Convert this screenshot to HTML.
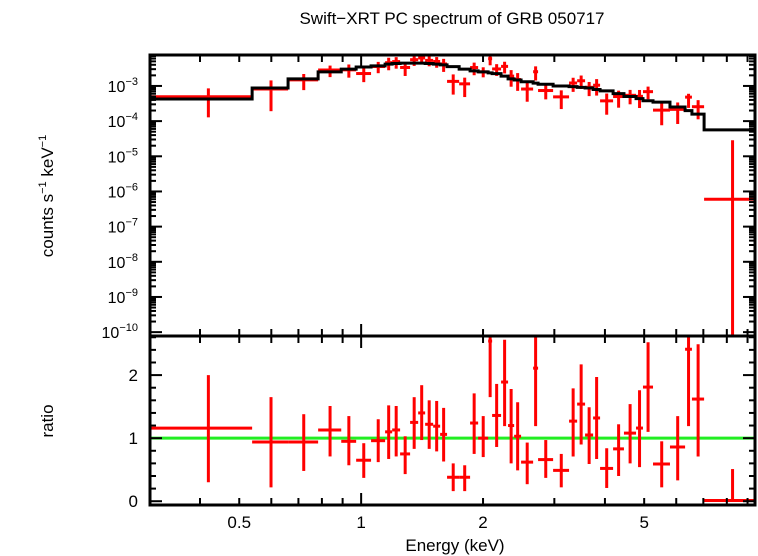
<!DOCTYPE html>
<html><head><meta charset="utf-8"><style>
html,body{margin:0;padding:0;background:#fff;}
svg{display:block;font-family:"Liberation Sans",sans-serif;}
</style></head><body>
<svg id="chart" width="758" height="556" viewBox="0 0 758 556" xmlns="http://www.w3.org/2000/svg">
<text x="452" y="24" font-size="17" text-anchor="middle">Swift−XRT PC spectrum of GRB 050717</text>
<text transform="translate(53,196) rotate(-90)" font-size="17" text-anchor="middle">counts s<tspan font-size="11" dy="-7">−1</tspan><tspan dy="7"> keV</tspan><tspan font-size="11" dy="-7">−1</tspan></text>
<text transform="translate(53,421) rotate(-90)" font-size="17" text-anchor="middle">ratio</text>
<text x="455" y="551" font-size="17" text-anchor="middle">Energy (keV)</text>
<g id="plot"></g>
</svg>
<script>
// Data
const binEdges = [0.301,0.538,0.660,0.783,0.893,0.972,1.058,1.146,1.193,1.248,1.321,1.383,1.439,1.506,1.567,1.630,1.746,1.858,1.945,2.059,2.106,2.216,2.306,2.387,2.483,2.659,2.735,2.979,3.262,3.415,3.573,3.740,3.891,4.190,4.457,4.774,4.966,5.258,5.79,6.31,6.56,7.03,9.5];
const modelLog = [-3.37,-3.06,-2.80,-2.60,-2.52,-2.46,-2.43,-2.38,-2.36,-2.35,-2.35,-2.35,-2.36,-2.38,-2.40,-2.45,-2.52,-2.57,-2.60,-2.63,-2.65,-2.72,-2.80,-2.83,-2.88,-2.92,-2.95,-3.00,-3.02,-3.04,-3.06,-3.10,-3.14,-3.22,-3.30,-3.36,-3.42,-3.46,-3.60,-3.70,-3.80,-4.25];
const ratio = [1.16,0.94,0.94,1.13,0.95,0.65,0.96,1.10,1.13,0.75,1.25,1.40,1.22,1.19,1.06,0.38,0.38,1.24,1.00,2.54,1.36,1.89,1.20,1.03,0.62,2.11,0.66,0.49,1.27,1.54,1.05,1.32,0.52,0.83,1.08,1.16,1.81,0.59,0.86,2.41,1.62,0.0107];
const ratioHi = [2.00,1.65,1.38,1.51,1.35,0.92,1.30,1.52,1.51,1.03,1.65,1.84,1.60,1.59,1.48,0.60,0.57,1.71,1.35,3.20,1.86,2.56,1.78,1.57,0.93,3.00,0.97,0.75,1.79,2.17,1.49,1.97,0.84,1.22,1.54,1.76,2.52,0.95,1.35,3.00,2.49,0.51];
const ratioLo = [0.30,0.22,0.48,0.71,0.57,0.37,0.62,0.67,0.71,0.43,0.83,0.97,0.83,0.79,0.63,0.16,0.16,0.75,0.70,1.65,0.86,1.19,0.60,0.49,0.27,1.19,0.37,0.22,0.71,0.90,0.59,0.67,0.21,0.40,0.60,0.54,1.10,0.22,0.33,1.19,0.71,0.0];
const xTicksLabeled = [0.5,1,2,5];
const xMinorTicks = [0.4,0.5,0.6,0.7,0.8,0.9,1,2,3,4,5,6,7,8,9];
const yDecades = [-3,-4,-5,-6,-7,-8,-9,-10];
const ratioMajor = [0,1,2];

const NS="http://www.w3.org/2000/svg";
const g=document.getElementById('plot');
const L=150,R=755,T1=55,B1=336,T2=336,B2=505;
const XMIN=Math.log10(0.301),XMAX=Math.log10(9.39);
const sx=e=>L+(Math.log10(e)-XMIN)/(XMAX-XMIN)*(R-L);
const LYMAX=-2.12,LYMIN=-10.11;
const sy1=l=>T1+(LYMAX-l)/(LYMAX-LYMIN)*(B1-T1);
const RMAX=2.62,RMIN=-0.06;
const sy2=r=>T2+(RMAX-r)/(RMAX-RMIN)*(B2-T2);
function mk(tag,attrs){const e=document.createElementNS(NS,tag);for(const k in attrs)e.setAttribute(k,attrs[k]);return e;}
function line(x1,y1,x2,y2,c,w,parent){const e=mk('line',{x1,y1,x2,y2,stroke:c,'stroke-width':w});(parent||g).appendChild(e);return e;}

const defs=mk('defs',{});
const c1=mk('clipPath',{id:'c1'});c1.appendChild(mk('rect',{x:L,y:T1,width:R-L,height:B1-T1}));
const c2=mk('clipPath',{id:'c2'});c2.appendChild(mk('rect',{x:L,y:T2,width:R-L,height:B2-T2}));
defs.appendChild(c1);defs.appendChild(c2);g.appendChild(defs);
const p1=mk('g',{'clip-path':'url(#c1)'});g.appendChild(p1);
const p2=mk('g',{'clip-path':'url(#c2)'});g.appendChild(p2);

let d='';
for(let i=0;i<modelLog.length;i++){
  const x0=sx(binEdges[i]),x1=sx(binEdges[i+1]),y=sy1(modelLog[i]);
  d+=(i===0?'M':'L')+x0+','+y+'L'+x1+','+y;
}
for(let i=0;i<ratio.length;i++){
  const e0=binEdges[i],e1=binEdges[i+1],ec=(e0+e1)/2;
  const m=Math.pow(10,modelLog[i]);
  const yc=sy1(Math.log10(m*ratio[i]));
  const yh=sy1(Math.log10(m*ratioHi[i]));
  const yl=ratioLo[i]>0?sy1(Math.log10(m*ratioLo[i])):B1+20;
  const h1=line(sx(e0),yc,sx(e1),yc,'#ff0000',3,p1);
  
  
  const v1=line(sx(ec),yh,sx(ec),yl,'#ff0000',3,p1);
  
  
}
const model=mk('path',{d,fill:'none',stroke:'#000','stroke-width':3});


p1.appendChild(model);

const unity=line(L,sy2(1),R,sy2(1),'#22ee22',3,p2);


for(let i=0;i<ratio.length;i++){
  const e0=binEdges[i],e1=binEdges[i+1],ec=(e0+e1)/2;
  const h=line(sx(e0),sy2(ratio[i]),sx(e1),sy2(ratio[i]),'#ff0000',3,p2);
  
  
  const v=line(sx(ec),sy2(ratioHi[i]),sx(ec),sy2(ratioLo[i]),'#ff0000',3,p2);
  
  
}

xMinorTicks.forEach(t=>{
  const x=sx(t);const len=(t===1)?12:7;
  [[T1,1],[B1,-1],[T2,1],[B2,-1]].forEach(([y,s])=>{line(x,y,x,y+s*len,'#000',2);});
});
xTicksLabeled.forEach(t=>{
  const tx=mk('text',{x:sx(t),y:528,'font-size':17,'text-anchor':'middle'});
  tx.textContent=String(t);
  
  
  g.appendChild(tx);
});
yDecades.forEach(l=>{
  const y=sy1(l);
  line(L,y,L+12,y,'#000',2);line(R,y,R-12,y,'#000',2);
  for(let k=2;k<=9;k++){const ym=sy1(l+Math.log10(k));if(ym>T1&&ym<B1){line(L,ym,L+6,ym,'#000',2);line(R,ym,R-6,ym,'#000',2);}}
  const tx=mk('text',{x:138,y:y+6,'font-size':16,'text-anchor':'end'});
  tx.innerHTML='10<tspan font-size="11" dy="-7">'+(l<0?'−'+(-l):l)+'</tspan>';
  
  
  g.appendChild(tx);
});
for(let r=0;r<=2.6;r+=0.2){
  const y=sy2(r);const maj=ratioMajor.some(m=>Math.abs(m-r)<1e-6);
  const len=maj?12:6;
  line(L,y,L+len,y,'#000',2);line(R,y,R-len,y,'#000',2);
}
ratioMajor.forEach(r=>{
  const tx=mk('text',{x:138,y:sy2(r)+6,'font-size':17,'text-anchor':'end'});
  tx.textContent=String(r);
  
  
  g.appendChild(tx);
});
const f1=mk('rect',{x:L,y:T1,width:R-L,height:B1-T1,fill:'none',stroke:'#000','stroke-width':3});


g.appendChild(f1);
const f2=mk('rect',{x:L,y:T2,width:R-L,height:B2-T2,fill:'none',stroke:'#000','stroke-width':3});


g.appendChild(f2);
</script>
</body></html>
